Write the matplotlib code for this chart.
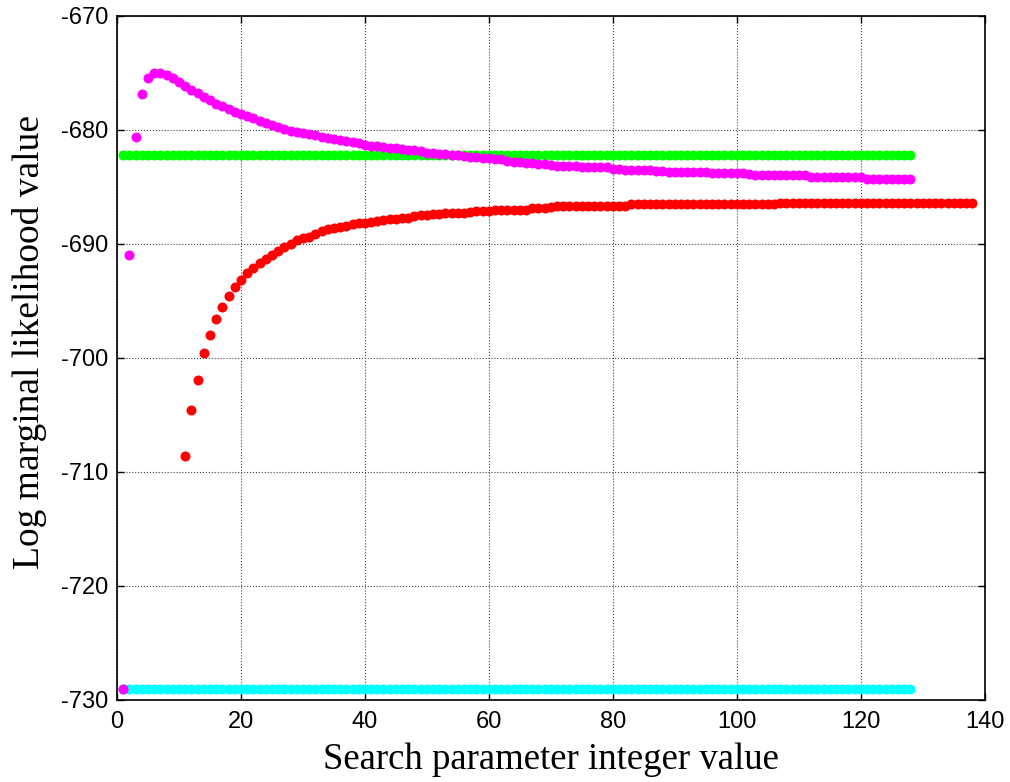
import numpy as np
import matplotlib
matplotlib.use("Agg")
import matplotlib.pyplot as plt

plt.rcParams['axes.unicode_minus'] = False

# search parameter values for each run
x_main = np.arange(1, 129)
x_red = np.arange(11, 139)

# log marginal likelihood per parameter value
magenta_vals = [
    -729.0, -691.0, -680.6, -676.9, -675.5, -675.0, -675.0, -675.2, -675.5, -675.8,
    -676.2, -676.5, -676.8, -677.1, -677.4, -677.7, -677.9, -678.2, -678.4, -678.6,
    -678.8, -679.0, -679.2, -679.4, -679.6, -679.8, -679.9, -680.1, -680.2, -680.3,
    -680.4, -680.5, -680.6, -680.7, -680.8, -680.9, -681.0, -681.1, -681.2, -681.3,
    -681.4, -681.4, -681.5, -681.6, -681.6, -681.7, -681.8, -681.8, -681.9, -682.0,
    -682.0, -682.1, -682.1, -682.2, -682.2, -682.3, -682.4, -682.4, -682.5, -682.5,
    -682.6, -682.6, -682.7, -682.8, -682.8, -682.9, -682.9, -683.0, -683.0, -683.1,
    -683.2, -683.2, -683.2, -683.2, -683.3, -683.3, -683.3, -683.3, -683.3, -683.4,
    -683.4, -683.5, -683.5, -683.5, -683.5, -683.5, -683.6, -683.6, -683.7, -683.7,
    -683.7, -683.7, -683.7, -683.7, -683.7, -683.8, -683.8, -683.8, -683.8, -683.8,
    -683.8, -683.9, -684.0, -684.0, -684.0, -684.0, -684.0, -684.0, -684.0, -684.0,
    -684.0, -684.1, -684.1, -684.1, -684.1, -684.1, -684.1, -684.1, -684.1, -684.1,
    -684.3, -684.3, -684.3, -684.3, -684.3, -684.3, -684.3, -684.3,
]

red_vals = [
    -708.6, -704.6, -701.9, -699.6, -698.0, -696.6, -695.5, -694.6, -693.8, -693.2,
    -692.6, -692.1, -691.7, -691.3, -691.0, -690.6, -690.3, -690.0, -689.7, -689.5,
    -689.4, -689.1, -688.9, -688.7, -688.6, -688.5, -688.4, -688.3, -688.2, -688.2,
    -688.1, -688.0, -687.9, -687.8, -687.8, -687.7, -687.7, -687.6, -687.5, -687.5,
    -687.4, -687.4, -687.3, -687.3, -687.3, -687.3, -687.2, -687.1, -687.1, -687.1,
    -687.0, -687.0, -687.0, -687.0, -687.0, -687.0, -686.9, -686.9, -686.9, -686.8,
    -686.7, -686.7, -686.7, -686.7, -686.7, -686.7, -686.7, -686.7, -686.7, -686.7,
    -686.7, -686.7, -686.5, -686.5, -686.5, -686.5, -686.5, -686.5, -686.5, -686.5,
    -686.5, -686.5, -686.5, -686.5, -686.5, -686.5, -686.5, -686.5, -686.5, -686.5,
    -686.5, -686.5, -686.5, -686.5, -686.5, -686.5, -686.4, -686.4, -686.4, -686.4,
    -686.4, -686.4, -686.4, -686.4, -686.4, -686.4, -686.4, -686.4, -686.4, -686.4,
    -686.4, -686.4, -686.4, -686.4, -686.4, -686.4, -686.4, -686.4, -686.4, -686.4,
    -686.4, -686.4, -686.4, -686.4, -686.4, -686.4, -686.4, -686.4,
]

green_vals = [-682.2] * 128
cyan_vals = [-729.0] * 128

x_ticks = [0, 20, 40, 60, 80, 100, 120, 140]
y_ticks = [-730, -720, -710, -700, -690, -680, -670]

fig = plt.figure(figsize=(10.10, 7.82), dpi=100)
ax = fig.add_axes([0.1158, 0.1049, 0.8592, 0.875])

ms = 7.2
ax.plot(x_main, green_vals, 'o', color='#00FF00', ms=ms, mec='none')
ax.plot(x_main, cyan_vals, 'o', color='#00FFFF', ms=ms, mec='none')
ax.plot(x_main, magenta_vals, 'o', color='#FF00FF', ms=ms, mec='none')
ax.plot(x_red, red_vals, 'o', color='#FF0000', ms=ms, mec='none')

ax.set_xlim(0, 140)
ax.set_ylim(-730, -670)
ax.set_xticks(x_ticks)
ax.set_yticks(y_ticks)
ax.grid(True, linestyle=':', color='#444444', linewidth=0.8)
ax.set_axisbelow(True)

ax.tick_params(direction='in', top=True, right=True, length=5, width=1,
               labelsize=17)
ax.tick_params(axis='x', pad=8)
ax.tick_params(axis='y', pad=6)
for lbl in ax.get_xticklabels() + ax.get_yticklabels():
    lbl.set_family('Liberation Sans')
for sp in ax.spines.values():
    sp.set_linewidth(1.2)

ax.set_xlabel('Search parameter integer value', family='Liberation Serif',
              fontsize=26.5, labelpad=7)
ax.set_ylabel('Log marginal likelihood value', family='Liberation Serif',
              fontsize=27)
ax.yaxis.set_label_coords(-0.081, 0.523)

fig.savefig('out.png', dpi=100)
